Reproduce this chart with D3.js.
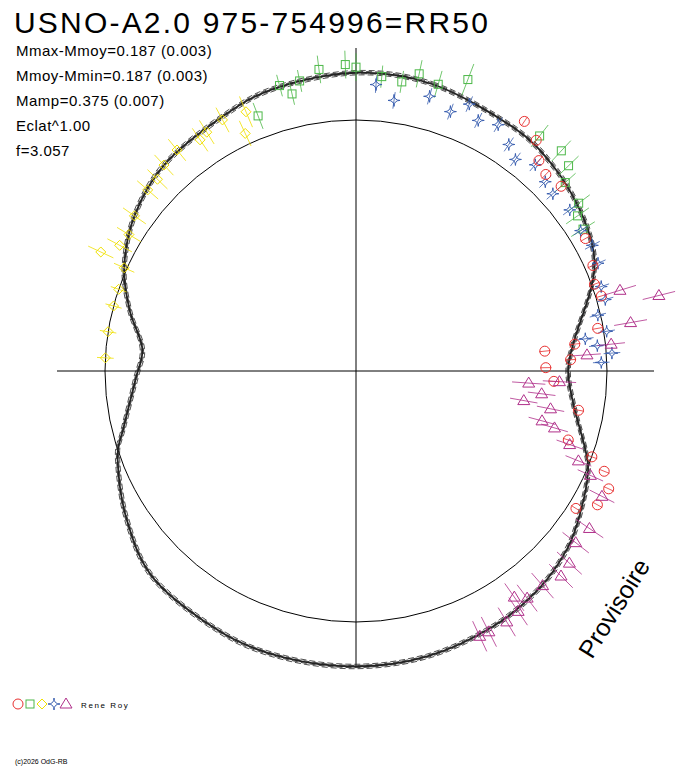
<!DOCTYPE html>
<html><head><meta charset="utf-8">
<script src="https://cdn.jsdelivr.net/npm/d3@7"></script>
<style>body{margin:0;background:#fff}</style>
</head><body>
<svg id="chart" width="688" height="768"></svg>
<script>
// polar light curve: [angle deg clockwise from top, dmag, err]
const yellowPts = [[273,0.00,0.03],[279,0.00,0.03],[285,0.00,0.03],[289,0.00,0.03],[294,0.01,0.04],[298,0.06,0.05],[301,0.05,0.05],[305,0.07,0.05],[311,0.09,0.05],[314,0.09,0.05],[317,0.11,0.05],[321,0.12,0.05],[326,0.10,0.05],[328,0.11,0.05],[332,0.12,0.05],[335,0.04,0.05],[337,0.11,0.06],[295,0.11,0.05]];
const greenPts = [[358,0.20,0.05],[0,0.19,0.05],[5,0.16,0.04],[9,0.15,0.04],[12,0.19,0.05],[16,0.17,0.05],[21,0.22,0.06],[353,0.19,0.05],[349,0.16,0.04],[345,0.16,0.04],[347,0.12,0.04],[339,0.08,0.05],[38,0.17,0.05],[43,0.18,0.05],[46,0.16,0.05],[48,0.11,0.05],[53,0.10,0.05],[55,0.07,0.05],[58,0.06,0.05]];
const bluePts = [[4,0.13,0.03],[8,0.08,0.03],[15,0.12,0.03],[20,0.09,0.03],[23,0.14,0.03],[26,0.10,0.03],[30,0.12,0.03],[34,0.08,0.03],[37,0.05,0.03],[41,0.08,0.03],[45,0.06,0.03],[48,0.05,0.03],[53,0.06,0.03],[58,0.05,0.03],[62,0.06,0.03],[66,0.05,0.03],[71,0.03,0.03],[74,0.03,0.03],[77,-0.01,0.03],[81,0.01,0.03],[84,-0.03,0.03],[86,0.02,0.03],[88,-0.02,0.03],[82,-0.07,0.03]];
const redPts = [[34,0.18,0.02],[38,0.15,0.02],[41,0.10,0.02],[44,0.08,0.02],[48,0.09,0.02],[60,0.05,0.02],[66,0.03,0.02],[70,0.01,0.02],[73,0.02,0.02],[80,-0.02,0.02],[83,-0.11,0.02],[87,-0.13,0.02],[84,-0.22,0.02],[89,-0.22,0.02],[93,-0.19,0.02],[100,-0.09,0.02],[110,0.00,0.02],[112,0.06,0.02],[115,0.10,0.02],[119,0.09,0.02],[122,0.03,0.02],[108,-0.10,0.02]];
const magentaPts = [[73,0.09,0.06],[76,0.22,0.06],[80,0.10,0.06],[84,0.02,0.05],[86,-0.07,0.05],[93,-0.17,0.06],[94,-0.28,0.06],[97,-0.23,0.05],[101,-0.19,0.05],[100,-0.29,0.05],[105,-0.21,0.05],[106,-0.16,0.05],[109,-0.09,0.05],[112,-0.04,0.05],[114,0.02,0.05],[117,0.09,0.05],[124,0.11,0.06],[128,0.10,0.06],[132,0.13,0.06],[135,0.14,0.06],[139,0.12,0.06],[143,0.12,0.06],[146,0.14,0.06],[149,0.15,0.06],[153,0.15,0.06],[155,0.15,0.06],[145,0.09,0.06]];
// fitted curve [angle, dmag]
const curveAngles = [0,15,33,44,54,63,70,82,90,99,109,114,122,130,140,152,166,180,194,207,224,237,250,256,268,276,285,294,305,317,332,344];
const curveMags = [0.17,0.165,0.14,0.12,0.09,0.055,0.0,-0.11,-0.14,-0.11,-0.03,0.01,0.05,0.09,0.12,0.14,0.155,0.16,0.16,0.155,0.14,0.08,0.01,-0.04,-0.11,-0.13,-0.06,0.01,0.07,0.11,0.13,0.155];
const statLines = ["Mmax-Mmoy=0.187 (0.003)","Mmoy-Mmin=0.187 (0.003)","Mamp=0.375 (0.007)","Eclat^1.00","f=3.057"];

const svg = d3.select("#chart");
const cx = 356, cy = 371;
const r = d3.scaleLinear().domain([0, 0.187]).range([251, 303]);
const toXY = (a, m) => {
  const t = a * Math.PI / 180, rr = r(m);
  return [cx + rr * Math.sin(t), cy - rr * Math.cos(t)];
};

svg.append("line").attr("x1", 57).attr("x2", 654).attr("y1", cy).attr("y2", cy).attr("stroke", "#000");
svg.append("line").attr("x1", cx).attr("x2", cx).attr("y1", 48).attr("y2", 666).attr("stroke", "#000");
svg.append("circle").attr("cx", cx).attr("cy", cy).attr("r", r(0)).attr("fill", "none").attr("stroke", "#000");

// model curve + dashed envelopes
const curvePts = curveAngles.map((a, i) => [a, curveMags[i]]);
[-0.008, 0.008, -0.004, 0.004].forEach(off => {
  svg.append("path")
    .attr("d", d3.line().curve(d3.curveCardinalClosed)(curvePts.map(p => toXY(p[0], p[1] + off))))
    .attr("fill", "none").attr("stroke", "#222").attr("stroke-width", 0.8).attr("stroke-dasharray", "6,3");
});
svg.append("path")
  .attr("d", d3.line().curve(d3.curveCardinalClosed)(curvePts.map(p => toXY(p[0], p[1]))))
  .attr("fill", "none").attr("stroke", "#222").attr("stroke-width", 1.8);

const star = "M0,-6Q0,0 6,0Q0,0 0,6Q0,0 -6,0Q0,0 0,-6Z";
const shapes = {
  circle: g => g.append("circle").attr("r", 5),
  square: g => g.append("rect").attr("x", -4).attr("y", -4).attr("width", 8).attr("height", 8),
  diamond: g => g.append("path").attr("d", "M0,-5L5,0L0,5L-5,0Z"),
  star: g => g.append("path").attr("d", star),
  tri: g => g.append("path").attr("d", "M0,-6L6,4L-6,4Z")
};
const series = [
  {pts: yellowPts, color: "#f0e000", shape: "diamond"},
  {pts: greenPts, color: "#4cb848", shape: "square"},
  {pts: bluePts, color: "#3a5fb0", shape: "star"},
  {pts: redPts, color: "#e83030", shape: "circle"},
  {pts: magentaPts, color: "#b0308a", shape: "tri"}
];
series.forEach(s => {
  s.pts.forEach(([a, m, e]) => {
    const p0 = toXY(a, m - e), p1 = toXY(a, m + e), p = toXY(a, m);
    svg.append("line").attr("x1", p0[0]).attr("y1", p0[1]).attr("x2", p1[0]).attr("y2", p1[1])
      .attr("stroke", s.color).attr("stroke-width", 0.8);
    const g = svg.append("g").attr("transform", `translate(${p[0]},${p[1]})`);
    shapes[s.shape](g).attr("fill", "none").attr("stroke", s.color).attr("stroke-width", 1);
  });
});

svg.append("text").attr("x", 14).attr("y", 33).attr("font-family", "Liberation Sans, Arial").attr("font-size", 30)
  .attr("letter-spacing", 2.2).text("USNO-A2.0 975-754996=RR50");
svg.selectAll(".stat").data(statLines).join("text")
  .attr("x", 16).attr("y", (d, i) => 56 + i * 25).attr("font-family", "Liberation Sans, Arial").attr("font-size", 15)
  .attr("letter-spacing", 0.5).text(d => d);
svg.append("text").attr("transform", "translate(592,660) rotate(-58)").attr("font-family", "Liberation Sans, Arial")
  .attr("font-size", 25).text("Provisoire");

// legend
const lg = svg.append("g");
[["circle", "#e83030"], ["square", "#4cb848"], ["diamond", "#f0e000"], ["star", "#3a5fb0"], ["tri", "#b0308a"]].forEach(([sh, c], i) => {
  const g = lg.append("g").attr("transform", `translate(${18 + i * 12},704)`);
  shapes[sh](g).attr("fill", "none").attr("stroke", c);
});
lg.append("text").attr("x", 81).attr("y", 708).attr("font-family", "Liberation Sans, Arial").attr("font-size", 8).attr("letter-spacing", 1.6).text("Rene Roy");
svg.append("text").attr("x", 15).attr("y", 764).attr("font-family", "Liberation Sans, Arial").attr("font-size", 7).text("(c)2026 OdG-RB");
</script>
</body></html>
